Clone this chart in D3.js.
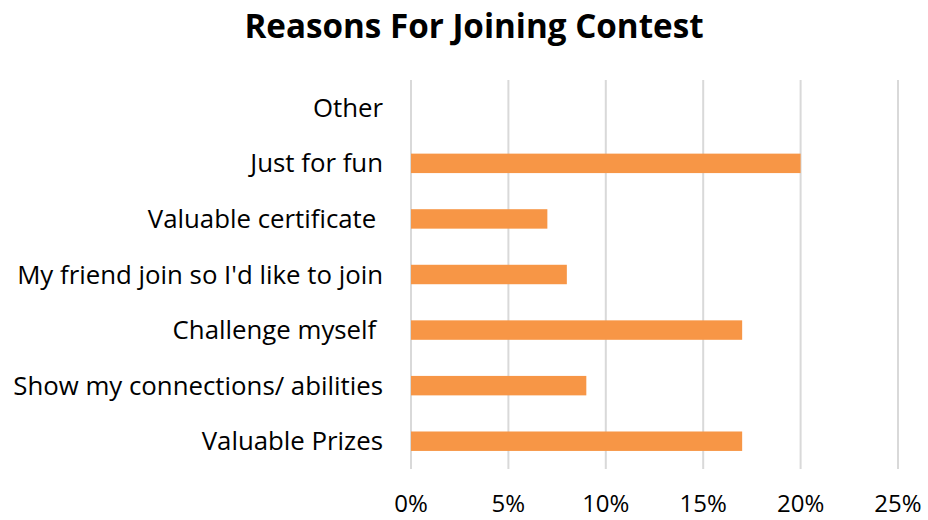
<!DOCTYPE html>
<html><head><meta charset="utf-8">
<script src="https://cdn.jsdelivr.net/npm/d3@7"></script>
<style>body{margin:0;background:#fff}svg{display:block}text{white-space:pre}</style>
</head><body><svg id="c" width="928" height="520"></svg>
<script>
const categories = ["Other","Just for fun","Valuable certificate ","My friend join so I'd like to join","Challenge myself ","Show my connections/ abilities","Valuable Prizes"];
const values = [0,20,7,8,17,9,17];
const ticks = [0,5,10,15,20,25];
const title = "Reasons For Joining Contest";

const svg = d3.select("#c");
const m = {l:411, r:898, t:80, b:469};
const x = d3.scaleLinear().domain([0,25]).range([m.l,m.r]);
const y = d3.scaleBand().domain(categories).range([m.t,m.b]).paddingInner(0.65).paddingOuter(0.325);
const font = "'Open Sans', sans-serif";

svg.append("text").attr("x",474).attr("y",38).attr("text-anchor","middle")
  .attr("font-family",font).attr("font-weight","bold").attr("font-size",33.2).attr("fill","#000").text(title);

svg.append("g").selectAll("line").data(ticks).join("line")
  .attr("x1",d=>x(d)).attr("x2",d=>x(d)).attr("y1",m.t).attr("y2",m.b)
  .attr("stroke","#d9d9d9").attr("stroke-width",2);

svg.append("g").selectAll("rect").data(values).join("rect")
  .attr("x",x(0)).attr("y",(d,i)=>y(categories[i])).attr("width",d=>x(d)-x(0)).attr("height",y.bandwidth())
  .attr("fill","#f79646");

svg.append("g").selectAll("text").data(categories).join("text")
  .attr("x",383).attr("y",d=>y(d)+y.bandwidth()/2).attr("dy","0.35em").attr("text-anchor","end")
  .attr("font-family",font).attr("font-size",25.8).attr("fill","#000").text(d=>d);

svg.append("g").selectAll("text").data(ticks).join("text")
  .attr("x",d=>x(d)).attr("y",512).attr("text-anchor","middle")
  .attr("font-family",font).attr("font-size",24).attr("fill","#000").text(d=>d+"%");
</script></body></html>
